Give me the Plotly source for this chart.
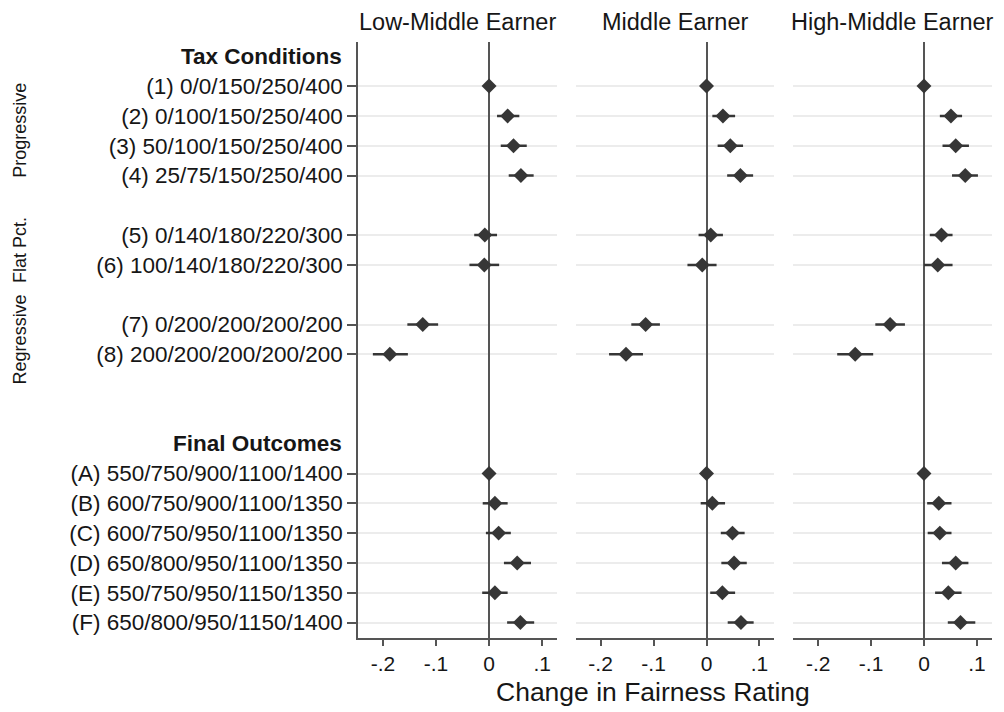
import plotly.graph_objects as go

# ---- data ---------------------------------------------------------------
panel_titles = ["Low-Middle Earner", "Middle Earner", "High-Middle Earner"]

tax_labels = [
    "(1) 0/0/150/250/400",
    "(2) 0/100/150/250/400",
    "(3) 50/100/150/250/400",
    "(4) 25/75/150/250/400",
    "(5) 0/140/180/220/300",
    "(6) 100/140/180/220/300",
    "(7) 0/200/200/200/200",
    "(8) 200/200/200/200/200",
]
tax_groups = ["Progressive"] * 4 + ["Flat Pct."] * 2 + ["Regressive"] * 2

outcome_labels = [
    "(A) 550/750/900/1100/1400",
    "(B) 600/750/900/1100/1350",
    "(C) 600/750/950/1100/1350",
    "(D) 650/800/950/1100/1350",
    "(E) 550/750/950/1150/1350",
    "(F) 650/800/950/1150/1400",
]

# point estimates and 95% CI bounds: 8 tax conditions followed by 6 outcomes
low_mid_est = [0, 0.035, 0.046, 0.060, -0.008, -0.009, -0.125, -0.187,
               0, 0.011, 0.018, 0.053, 0.011, 0.059]
low_mid_lo = [0, 0.015, 0.022, 0.037, -0.028, -0.037, -0.154, -0.219,
              0, -0.012, -0.006, 0.028, -0.013, 0.034]
low_mid_hi = [0, 0.057, 0.071, 0.084, 0.015, 0.019, -0.096, -0.153,
              0, 0.035, 0.041, 0.079, 0.035, 0.085]

mid_est = [0, 0.031, 0.045, 0.064, 0.008, -0.008, -0.115, -0.152,
           0, 0.011, 0.049, 0.052, 0.030, 0.065]
mid_lo = [0, 0.011, 0.021, 0.039, -0.015, -0.036, -0.142, -0.184,
          0, -0.011, 0.027, 0.028, 0.007, 0.040]
mid_hi = [0, 0.054, 0.069, 0.088, 0.031, 0.019, -0.088, -0.120,
          0, 0.035, 0.072, 0.076, 0.054, 0.089]

high_mid_est = [0, 0.051, 0.060, 0.078, 0.033, 0.026, -0.064, -0.130,
                0, 0.028, 0.030, 0.060, 0.046, 0.069]
high_mid_lo = [0, 0.030, 0.035, 0.053, 0.011, 0.000, -0.092, -0.164,
               0, 0.006, 0.007, 0.034, 0.021, 0.045]
high_mid_hi = [0, 0.072, 0.085, 0.102, 0.054, 0.054, -0.036, -0.096,
               0, 0.052, 0.052, 0.084, 0.071, 0.097]

x_tick_vals = [-0.2, -0.1, 0, 0.1]
x_tick_text = ["-.2", "-.1", "0", ".1"]

# ---- row positions (blank row between tax-condition groups) -------------
tax_pos = []
pos = 0
prev = None
for g in tax_groups:
    pos += 1 if (prev is None or g == prev) else 2
    tax_pos.append(pos)
    prev = g
tax_header_pos = 0
outcome_header_pos = tax_pos[-1] + 3
outcome_pos = [outcome_header_pos + 1 + i for i in range(len(outcome_labels))]
row_pos = tax_pos + outcome_pos
row_labels = tax_labels + outcome_labels

# ---- styling --------------------------------------------------------------
W, H = 1004, 712
FONT = "Liberation Sans, Arial, sans-serif"
DARK = "#363636"
AXIS = "#555555"
GRID = "#ececec"
TEXT = "#161616"


def px_x(p):
    return p / W


def px_y(p):
    return 1 - p / H


x_domains = [(358, 557), (575.7, 774.3), (793.3, 991.7)]
y_domain = [px_y(638.3), px_y(42)]
x_range = [-0.247, 0.128]
y_range = [outcome_pos[-1] + 0.53, tax_header_pos - 0.48]

series = [
    (low_mid_est, low_mid_lo, low_mid_hi),
    (mid_est, mid_lo, mid_hi),
    (high_mid_est, high_mid_lo, high_mid_hi),
]

fig = go.Figure()
for i, (est, lo, hi) in enumerate(series):
    suffix = "" if i == 0 else str(i + 1)
    fig.add_trace(go.Scatter(
        x=est, y=row_pos,
        mode="markers",
        marker=dict(symbol="diamond", size=11.5, color=DARK, line=dict(width=0)),
        error_x=dict(
            type="data", symmetric=False,
            array=[h - e for h, e in zip(hi, est)],
            arrayminus=[e - l for e, l in zip(est, lo)],
            color=DARK, thickness=2.5, width=0,
        ),
        xaxis="x" + suffix, yaxis="y" + suffix,
        showlegend=False, hoverinfo="skip",
    ))

layout = dict(
    width=W, height=H,
    margin=dict(l=0, r=0, t=0, b=0),
    paper_bgcolor="white", plot_bgcolor="white",
    font=dict(family=FONT, color=TEXT),
    showlegend=False,
)

for i in range(3):
    suffix = "" if i == 0 else str(i + 1)
    d0, d1 = x_domains[i]
    layout["xaxis" + suffix] = dict(
        domain=[px_x(d0), px_x(d1)], range=x_range, anchor="y" + suffix,
        showgrid=False, zeroline=True, zerolinecolor=AXIS, zerolinewidth=2,
        showline=True, linecolor=AXIS, linewidth=1.5,
        ticks="outside", ticklen=6, tickwidth=1.5, tickcolor=AXIS,
        tickvals=x_tick_vals, ticktext=x_tick_text,
        tickfont=dict(size=21, color=TEXT, family=FONT),
        fixedrange=True, automargin=False,
    )
    ax = dict(
        domain=y_domain, range=y_range, anchor="x" + suffix,
        showgrid=True, gridcolor=GRID, gridwidth=2, zeroline=False,
        tickvals=row_pos, fixedrange=True, automargin=False,
    )
    if i == 0:
        ax.update(
            showline=True, linecolor=AXIS, linewidth=1.5,
            ticks="outside", ticklen=9, tickwidth=1.5, tickcolor=AXIS,
            ticktext=row_labels, showticklabels=True,
            tickfont=dict(size=22.5, color=TEXT, family=FONT),
        )
    else:
        ax.update(showline=False, ticks="", showticklabels=False)
    layout["yaxis" + suffix] = ax

fig.update_layout(**layout)

annotations = []
# panel titles, centred over each panel
for t, (d0, d1) in zip(panel_titles, x_domains):
    annotations.append(dict(
        text=t, x=px_x((d0 + d1) / 2), y=px_y(22), xref="paper", yref="paper",
        xanchor="center", yanchor="middle", showarrow=False,
        font=dict(size=23.5, color=TEXT, family=FONT),
    ))

# section headers aligned with the tick labels
for text, p in [("Tax Conditions", tax_header_pos), ("Final Outcomes", outcome_header_pos)]:
    annotations.append(dict(
        text="<b>" + text + "</b>", x=px_x(344), y=p, xref="paper", yref="y",
        xanchor="right", yanchor="middle", showarrow=False,
        font=dict(size=22.5, color=TEXT, family=FONT),
    ))

# rotated tax-group labels
seen = []
for g in tax_groups:
    if g not in seen:
        seen.append(g)
for g in seen:
    ps = [p for p, gg in zip(tax_pos, tax_groups) if gg == g]
    annotations.append(dict(
        text=g, x=px_x(20), y=sum(ps) / len(ps), xref="paper", yref="y",
        xanchor="center", yanchor="middle", textangle=-90, showarrow=False,
        font=dict(size=18, color=TEXT, family=FONT),
    ))

# shared x-axis title
annotations.append(dict(
    text="Change in Fairness Rating", x=px_x(652.5), y=px_y(692),
    xref="paper", yref="paper", xanchor="center", yanchor="middle",
    showarrow=False, font=dict(size=26.5, color=TEXT, family=FONT),
))

fig.update_layout(annotations=annotations)
fig.write_html("out.html")
